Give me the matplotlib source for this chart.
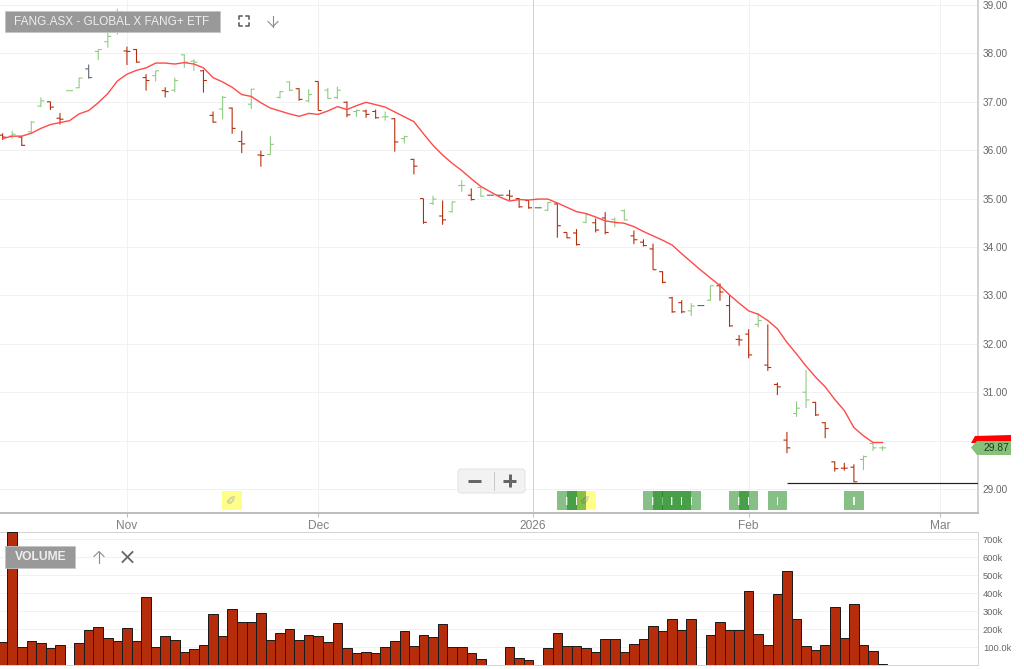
import numpy as np
import matplotlib
matplotlib.use("Agg")
import matplotlib.pyplot as plt
from matplotlib.patches import Rectangle, Polygon, FancyBboxPatch

plt.rcParams["font.family"] = ["Liberation Sans", "DejaVu Sans"]

title = "FANG.ASX - GLOBAL X FANG+ ETF"
last_price = "29.87"

highs = [36.35, 36.40, 36.29, 36.60, 37.09, 37.00, 36.77, 37.23, 37.50, 37.77, 38.08, 38.45, 38.92, 38.14, 38.09,
         37.57, 37.64, 37.30, 37.50, 37.98, 37.88, 37.66, 36.80, 37.12, 36.88, 36.40, 37.27, 35.99, 36.29, 37.22,
         37.42, 37.28, 37.26, 37.42, 37.29, 37.31, 37.01, 36.84, 36.84, 36.84, 36.80, 36.66, 36.30, 35.82, 35.00,
         35.06, 34.96, 34.94, 35.38, 35.21, 35.25, 35.07, 35.07, 35.18, 35.01, 34.97, 34.81, 34.93, 34.90, 34.30,
         34.37, 34.68, 34.59, 34.72, 34.61, 34.78, 34.34, 34.16, 34.07, 33.50, 32.97, 32.90, 32.84, 32.79, 33.20,
         33.25, 33.01, 32.18, 32.30, 32.63, 32.40, 31.20, 30.18, 30.81, 31.46, 30.80, 30.38, 29.57, 29.54, 29.51,
         29.69, 29.96, 29.89]
lows = [36.21, 36.24, 36.09, 36.36, 36.89, 36.83, 36.53, 37.23, 37.28, 37.48, 37.86, 38.12, 38.39, 37.76, 37.81,
        37.23, 37.42, 37.09, 37.20, 37.70, 37.64, 37.19, 36.57, 36.64, 36.34, 35.94, 36.85, 35.66, 35.90, 37.07,
        37.22, 37.02, 36.99, 36.82, 37.06, 37.06, 36.68, 36.69, 36.67, 36.65, 36.61, 35.97, 36.14, 35.50, 34.48,
        34.87, 34.46, 34.71, 35.14, 34.96, 35.04, 35.07, 35.07, 34.97, 34.81, 34.79, 34.81, 34.74, 34.19, 34.18,
        34.03, 34.49, 34.30, 34.26, 34.41, 34.55, 34.06, 34.01, 33.53, 33.25, 32.64, 32.63, 32.57, 32.79, 32.89,
        32.89, 32.35, 31.96, 31.70, 32.34, 31.44, 30.94, 29.74, 30.49, 30.67, 30.51, 30.05, 29.36, 29.38, 29.14,
        29.39, 29.79, 29.79]
opens = [36.31, 36.29, 36.27, 36.38, 36.91, 37.00, 36.66, 37.23, 37.29, 37.68, 38.04, 38.24, 38.69, 38.05, 38.08,
         37.50, 37.54, 37.23, 37.24, 37.97, 37.84, 37.64, 36.72, 36.85, 36.87, 36.18, 36.95, 35.90, 35.91, 37.09,
         37.41, 37.27, 37.02, 37.42, 37.24, 37.09, 36.99, 36.80, 36.81, 36.80, 36.69, 36.65, 36.24, 35.81, 35.00,
         34.90, 34.64, 34.73, 35.27, 35.07, 35.23, 35.07, 35.07, 35.07, 35.00, 34.96, 34.81, 34.76, 34.89, 34.30,
         34.29, 34.51, 34.50, 34.60, 34.57, 34.75, 34.23, 34.10, 33.96, 33.49, 32.95, 32.85, 32.68, 32.79, 32.90,
         33.20, 32.79, 32.09, 32.20, 32.40, 31.56, 31.16, 30.01, 30.56, 31.00, 30.79, 30.37, 29.56, 29.43, 29.45,
         29.61, 29.94, 29.85]
closes = [36.27, 36.33, 36.10, 36.58, 37.02, 36.89, 36.64, 37.23, 37.49, 37.50, 38.08, 38.35, 38.86, 38.04, 37.82,
          37.44, 37.64, 37.21, 37.44, 37.82, 37.82, 37.44, 36.58, 37.09, 36.45, 36.13, 37.26, 35.89, 36.12, 37.21,
          37.24, 37.05, 37.15, 36.82, 37.07, 37.24, 36.73, 36.82, 36.74, 36.67, 36.69, 36.17, 36.28, 35.67, 34.51,
          34.99, 34.56, 34.93, 35.27, 34.98, 35.05, 35.07, 35.07, 35.05, 34.83, 34.81, 34.81, 34.92, 34.44, 34.19,
          34.05, 34.67, 34.35, 34.30, 34.50, 34.56, 34.15, 34.03, 33.53, 33.27, 32.66, 32.66, 32.78, 32.79, 33.20,
          33.07, 32.37, 32.08, 31.77, 32.48, 31.51, 31.11, 29.85, 30.67, 30.84, 30.53, 30.25, 29.42, 29.43, 29.15,
          29.67, 29.85, 29.85]
# r = down, g = up, k = flat/unchanged
bar_kinds = list("rgrggrrggk" "gggrrrgrgg" "grrgrrgrgg" "grgrggrgrr" "grgrrgrggr"
                 "gkkrrrkgrr" "rgrrggrrrr" "rrgkgrrrrg" "rrrggrrrrr" "ggg")

ma_values = [36.24, 36.29, 36.29, 36.35, 36.45, 36.53, 36.57, 36.61, 36.75, 36.82, 36.98, 37.17, 37.43, 37.57, 37.65,
             37.70, 37.80, 37.80, 37.78, 37.81, 37.78, 37.70, 37.50, 37.41, 37.30, 37.15, 37.11, 36.98, 36.87, 36.81,
             36.75, 36.70, 36.76, 36.74, 36.81, 36.90, 36.84, 36.92, 36.99, 36.94, 36.89, 36.79, 36.69, 36.59, 36.34,
             36.10, 35.90, 35.73, 35.58, 35.41, 35.25, 35.14, 35.03, 34.95, 34.98, 34.97, 34.99, 34.99, 34.91, 34.82,
             34.73, 34.69, 34.62, 34.54, 34.51, 34.49, 34.42, 34.32, 34.23, 34.14, 34.04, 33.86, 33.69, 33.52, 33.36,
             33.20, 33.01, 32.84, 32.68, 32.61, 32.48, 32.31, 32.03, 31.79, 31.54, 31.31, 31.11, 30.85, 30.62, 30.27,
             30.10, 29.96, 29.96]

volumes_k = [130, 739, 102, 135, 124, 96, 113, 0, 124, 194, 209, 150, 135, 205, 135,
             376, 102, 161, 141, 74, 91, 113, 281, 161, 309, 237, 237, 287, 141, 178,
             200, 141, 169, 161, 128, 231, 96, 69, 74, 69, 102, 135, 189, 107, 167,
             156, 226, 102, 102, 69, 35, 0, 0, 102, 41, 30, 0, 96, 178, 107,
             107, 96, 74, 146, 146, 74, 119, 146, 217, 189, 256, 194, 256, 0, 169,
             237, 194, 194, 413, 172, 113, 396, 522, 256, 107, 85, 113, 320, 150, 337,
             113, 80, 4]

month_pos = [13, 33, 55.45, 78, 98]
month_labels = ["Nov", "Dec", "2026", "Feb", "Mar"]
price_ticks = [29, 30, 31, 32, 33, 34, 35, 36, 37, 38, 39]
price_labels = ["29.00", "", "31.00", "32.00", "33.00", "34.00", "35.00", "36.00", "37.00", "38.00", "39.00"]
vol_ticks = [100, 200, 300, 400, 500, 600, 700]
vol_labels = ["100.0k", "200k", "300k", "400k", "500k", "600k", "700k"]

support_start = 82
support_price = 29.12
note_days = [24, 61]
signal_days = [59, 60, 68, 69, 70, 71, 72, 77, 78, 81, 89]

W, H = 1024, 669
PX = 0.72  # one pixel in points at dpi 100
kind_colors = {"r": "#b62d0b", "g": "#8fcb82", "k": "#5d6670"}
x = np.arange(len(closes))
colors = [kind_colors[k] for k in bar_kinds]

fig = plt.figure(figsize=(W / 100, H / 100), dpi=100)
ax = fig.add_axes([0, (H - 513) / H, 978 / W, 513 / H])
vax = fig.add_axes([0, (H - 665) / H, 978 / W, 133 / H])

# x px = 2.6 + 9.565 * i
xlim = (-2.6 / 9.565, (978 - 2.6) / 9.565)

ax.set_xlim(xlim)
ax.set_ylim(28.504, 39.103)
ax.yaxis.tick_right()
ax.set_yticks(price_ticks)
ax.set_yticklabels(price_labels, fontsize=7.2, color="#666666")
ax.set_xticks(month_pos)
ax.set_xticklabels(month_labels, fontsize=8.6, color="#808080")
ax.tick_params(axis="y", length=0, pad=3.5)
ax.tick_params(axis="x", length=3, width=0.7, color="#bbbbbb", pad=1.8)
ax.grid(True, color="#f1f1f1", lw=1 * PX)
ax.set_axisbelow(True)
for s in ["top", "left"]:
    ax.spines[s].set_visible(False)
ax.spines["right"].set_color("#c4c4c4")
ax.spines["bottom"].set_color("#bdbdbd")
ax.spines["right"].set_linewidth(1.5 * PX)
ax.spines["bottom"].set_linewidth(2 * PX)
ax.axvline(month_pos[2], color="#d0d0d0", lw=1 * PX, zorder=1)

for d in note_days:
    ax.add_patch(Rectangle((d - 1.02, 28.556), 2.04, 0.404, color="#ffff88", lw=0, zorder=2))
    ax.text(d, 28.76, "\u270f", family="DejaVu Sans", fontsize=9, color="#b5b5b5", rotation=45,
            ha="center", va="center", zorder=2.1)
for d in signal_days:
    ax.add_patch(Rectangle((d - 1.02, 28.556), 2.04, 0.404, facecolor="#007a00", alpha=0.47, lw=0, zorder=3))
    ax.add_patch(Rectangle((d - 0.07, 28.67), 0.14, 0.16, facecolor="#f4f4f4", lw=0, zorder=3))

hl = ax.vlines(x, lows, highs, colors=colors, lw=1.1 * PX, zorder=4)
hl.set_snap(False)
op = ax.hlines(opens, x - 0.36, x, colors=colors, lw=1.1 * PX, zorder=4)
op.set_snap(False)
cl = ax.hlines(closes, x, x + 0.36, colors=colors, lw=1.1 * PX, zorder=4)
cl.set_snap(False)
ax.plot(x, ma_values, color="#ff4a4a", lw=1.4 * PX, zorder=5)
ax.hlines(support_price, support_start, xlim[1], color="#222222", lw=1.2 * PX, zorder=5)

vax.set_xlim(xlim)
vax.set_ylim(0, 739)
vax.bar(x, volumes_k, width=1.0, color="#b62d0b", edgecolor="#1c1c1c", lw=1 * PX, zorder=3)
vax.yaxis.tick_right()
vax.set_yticks(vol_ticks)
vax.set_yticklabels(vol_labels, fontsize=6.7, color="#666666")
vax.set_xticks([])
vax.tick_params(axis="y", length=0, pad=3.5)
vax.grid(True, axis="y", color="#f1f1f1", lw=1 * PX)
vax.set_axisbelow(True)
vax.spines["left"].set_visible(False)
for s in ["top", "right", "bottom"]:
    vax.spines[s].set_color("#d4d4d4")
    vax.spines[s].set_linewidth(1 * PX)

# toolbar bits and price tag, in screen pixels
ov = fig.add_axes([0, 0, 1, 1])
ov.set_xlim(0, W)
ov.set_ylim(H, 0)
ov.axis("off")
ov.patch.set_alpha(0)

ov.add_patch(Rectangle((5, 11), 215, 21, facecolor="#999999", edgecolor="#c4c4c4", lw=0.6))
ov.text(14.5, 21.8, title, fontsize=8.5, color="#eeeeee", va="center", ha="left")
ov.add_patch(Rectangle((5, 546), 70, 21.5, facecolor="#999999", edgecolor="#c4c4c4", lw=0.6))
ov.text(14.5, 557, "VOLUME", fontsize=8.75, fontweight="bold", color="#eeeeee", va="center", ha="left")

icon = "#555555"
for cx, cy, dx, dy in [(239, 16, 1, 1), (249, 16, -1, 1), (239, 26, 1, -1), (249, 26, -1, -1)]:
    ov.plot([cx + 3 * dx, cx, cx], [cy, cy, cy + 3 * dy], color=icon, lw=1.5 * PX)
ov.plot([273, 273], [15.5, 26.5], color="#8a8a8a", lw=1.1 * PX)
ov.plot([268, 273, 278], [21.5, 26.5, 21.5], color="#8a8a8a", lw=1.1 * PX)
ov.plot([99, 99], [551.5, 562.5], color="#8a8a8a", lw=1.1 * PX)
ov.plot([94, 99, 104], [556.5, 551.5, 556.5], color="#8a8a8a", lw=1.1 * PX)
ov.plot([122.5, 132.5], [552, 562], color="#666666", lw=1.8 * PX)
ov.plot([122.5, 132.5], [562, 552], color="#666666", lw=1.8 * PX)

ov.add_patch(FancyBboxPatch((458, 469), 67, 24, boxstyle="round,pad=0,rounding_size=3",
                            facecolor="#f2f2f2", edgecolor="#e2e2e2", lw=0.7))
ov.plot([493.5, 493.5], [472, 490], color="#c8c8c8", lw=1 * PX)
ov.plot([468, 481], [480.5, 480.5], color="#666666", lw=3 * PX, solid_capstyle="butt")
ov.plot([503, 516], [480.5, 480.5], color="#666666", lw=3 * PX, solid_capstyle="butt")
ov.plot([509.5, 509.5], [474, 487], color="#666666", lw=3 * PX, solid_capstyle="butt")

ov.add_patch(Polygon([(971, 443), (975, 436), (1011, 435), (1011, 444)], closed=True, facecolor="#ff0000", lw=0))
ov.add_patch(Polygon([(971, 447.5), (977, 441), (1011, 441), (1011, 455), (977, 455)], closed=True,
                     facecolor="#85c178", lw=0))
ov.text(996, 447.8, last_price, fontsize=7.4, color="#1f3a1f", ha="center", va="center")

fig.savefig("out.png", dpi=100)
